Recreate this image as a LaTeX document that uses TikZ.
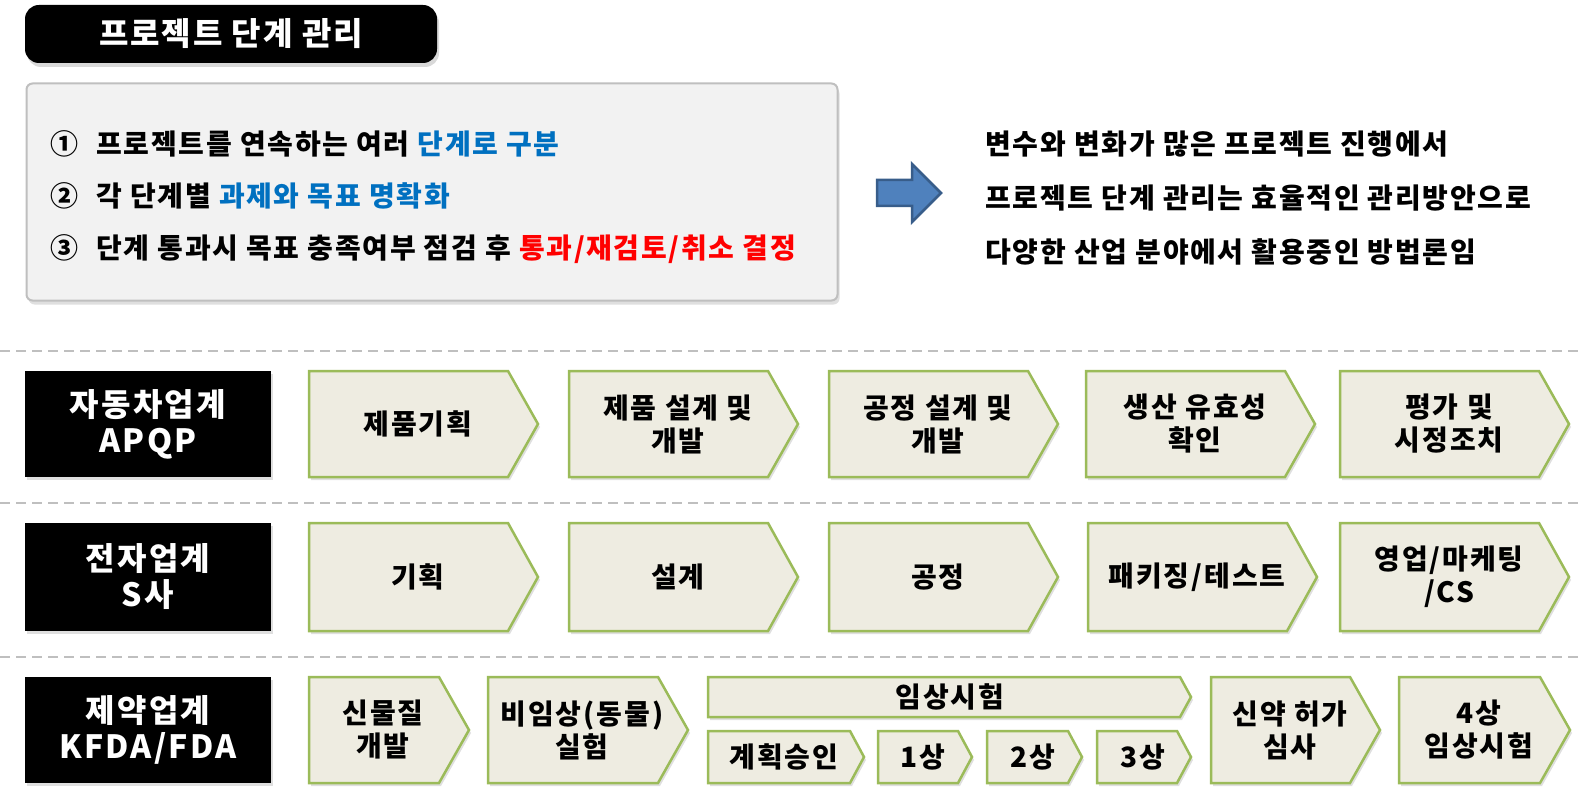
\documentclass[tikz,border=0pt]{standalone}
\usepackage{fontspec}
\setmainfont{Noto Sans CJK KR}
\usetikzlibrary{shadows}
\definecolor{stagefill}{HTML}{EEECE1}
\definecolor{stageline}{HTML}{9BBB59}
\definecolor{keyblue}{HTML}{0070C0}
\definecolor{keyred}{HTML}{FF0000}
\definecolor{notefill}{HTML}{F2F2F2}
\definecolor{noteline}{HTML}{BFBFBF}
\definecolor{arrowfill}{HTML}{4F81BD}
\definecolor{arrowline}{HTML}{385D8A}

\begin{document}
\begin{tikzpicture}[x=1pt,y=-1pt]

\tikzset{stage/.style = {draw=stageline,fill=stagefill,line width=2.5pt,drop shadow={shadow xshift=2pt,shadow yshift=-3pt,opacity=.25}}}
\tikzset{stagetext/.style = {align=center,font=\fontsize{28}{33}\selectfont\bfseries\addfontfeatures{LetterSpace=7}}}
\tikzset{industry/.style = {fill=black,text=white,minimum width=246pt,minimum height=106pt,align=center,font=\fontsize{32}{36}\selectfont\bfseries\addfontfeatures{LetterSpace=7},drop shadow={shadow xshift=2pt,shadow yshift=-3pt,opacity=.25}}}
\tikzset{divider/.style = {draw=noteline,line width=2pt,dash pattern=on 10pt off 6pt}}
\tikzset{noteline/.style = {anchor=west,font=\fontsize{28}{33}\selectfont\bfseries\addfontfeatures{LetterSpace=6}}}

\useasboundingbox (0,0) rectangle (1584,802);

% title and summary
\node[fill=black,rounded corners=14pt,minimum width=412pt,minimum height=58pt,drop shadow={shadow xshift=2pt,shadow yshift=-4pt,opacity=.3},text=white,font=\fontsize{32}{36}\selectfont\bfseries\addfontfeatures{LetterSpace=6}] (title) at (231,34) {프로젝트 단계 관리};
\node[draw=noteline,fill=notefill,line width=2pt,rounded corners=6pt,minimum width=811pt,minimum height=217pt,drop shadow={shadow xshift=2pt,shadow yshift=-4pt,opacity=.25}] (note) at (432,192) {};
\node[noteline] (step1) at (47,144) {①\hspace{18pt}프로젝트를 연속하는 여러 \textcolor{keyblue}{단계로 구분}};
\node[noteline] (step2) at (47,196) {②\hspace{18pt}각 단계별 \textcolor{keyblue}{과제와 목표 명확화}};
\node[noteline] (step3) at (47,249) {③\hspace{18pt}단계 통과시 목표 충족여부 점검 후 \textcolor{keyred}{통과/재검토/취소 결정}};

\draw[fill=arrowfill,draw=arrowline,line width=2.5pt] (877,180) -- (912,180) -- (912,164) -- (941,193) -- (912,222) -- (912,206) -- (877,206) -- cycle;

\node[noteline] (sum1) at (982,144) {변수와 변화가 많은 프로젝트 진행에서};
\node[noteline] (sum2) at (982,198) {프로젝트 단계 관리는 효율적인 관리방안으로};
\node[noteline] (sum3) at (982,252) {다양한 산업 분야에서 활용중인 방법론임};

% dividers
\draw[divider] (0,351) -- (1584,351);
\draw[divider] (0,503) -- (1584,503);
\draw[divider] (0,657) -- (1584,657);

% automotive
\node[industry] (car) at (148,424) {자동차업계\\APQP};
\draw[stage] (309,371) -- (508,371) -- (538,424) -- (508,477) -- (309,477) -- cycle;
\draw[stage] (569,371) -- (768,371) -- (798,424) -- (768,477) -- (569,477) -- cycle;
\draw[stage] (829,371) -- (1028,371) -- (1058,424) -- (1028,477) -- (829,477) -- cycle;
\draw[stage] (1086,371) -- (1285,371) -- (1315,424) -- (1285,477) -- (1086,477) -- cycle;
\draw[stage] (1340,371) -- (1539,371) -- (1569,424) -- (1539,477) -- (1340,477) -- cycle;
\node[stagetext] (car1) at (418,424) {제품기획};
\node[stagetext] (car2) at (678,424) {제품 설계 및\\개발};
\node[stagetext] (car3) at (938,424) {공정 설계 및\\개발};
\node[stagetext] (car4) at (1195,424) {생산 유효성\\확인};
\node[stagetext] (car5) at (1449,424) {평가 및\\시정조치};

% electronics
\node[industry,minimum height=108pt] (elec) at (148,577) {전자업계\\S사};
\draw[stage] (309,523) -- (508,523) -- (538,577) -- (508,631) -- (309,631) -- cycle;
\draw[stage] (569,523) -- (768,523) -- (798,577) -- (768,631) -- (569,631) -- cycle;
\draw[stage] (829,523) -- (1028,523) -- (1058,577) -- (1028,631) -- (829,631) -- cycle;
\draw[stage] (1088,523) -- (1287,523) -- (1317,577) -- (1287,631) -- (1088,631) -- cycle;
\draw[stage] (1340,523) -- (1539,523) -- (1569,577) -- (1539,631) -- (1340,631) -- cycle;
\node[stagetext] (elec1) at (418,577) {기획};
\node[stagetext] (elec2) at (678,577) {설계};
\node[stagetext] (elec3) at (938,577) {공정};
\node[stagetext] (elec4) at (1197,577) {패키징/테스트};
\node[stagetext] (elec5) at (1449,577) {영업/마케팅\\/CS};

% pharma
\node[industry] (pharma) at (148,730) {제약업계\\KFDA/FDA};
\draw[stage] (309,677) -- (439,677) -- (469,730) -- (439,783) -- (309,783) -- cycle;
\draw[stage] (488,677) -- (658,677) -- (688,730) -- (658,783) -- (488,783) -- cycle;
\draw[stage] (708,677) -- (1180,677) -- (1191,697) -- (1180,717) -- (708,717) -- cycle;
\draw[stage] (708,731) -- (850,731) -- (864,757) -- (850,783) -- (708,783) -- cycle;
\draw[stage] (878,731) -- (958,731) -- (972,757) -- (958,783) -- (878,783) -- cycle;
\draw[stage] (987,731) -- (1068,731) -- (1082,757) -- (1068,783) -- (987,783) -- cycle;
\draw[stage] (1097,731) -- (1177,731) -- (1191,757) -- (1177,783) -- (1097,783) -- cycle;
\draw[stage] (1211,677) -- (1350,677) -- (1380,730) -- (1350,783) -- (1211,783) -- cycle;
\draw[stage] (1399,677) -- (1540,677) -- (1570,730) -- (1540,783) -- (1399,783) -- cycle;
\node[stagetext] (pharma1) at (383,730) {신물질\\개발};
\node[stagetext] (pharma2) at (582,730) {비임상(동물)\\실험};
\node[stagetext] (trial) at (950,697) {임상시험};
\node[stagetext] (trial0) at (784,757) {계획승인};
\node[stagetext] (trial1) at (923,757) {1상};
\node[stagetext] (trial2) at (1033,757) {2상};
\node[stagetext] (trial3) at (1143,757) {3상};
\node[stagetext] (pharma3) at (1290,730) {신약 허가\\심사};
\node[stagetext] (pharma4) at (1479,730) {4상\\임상시험};
\end{tikzpicture}
\end{document}
